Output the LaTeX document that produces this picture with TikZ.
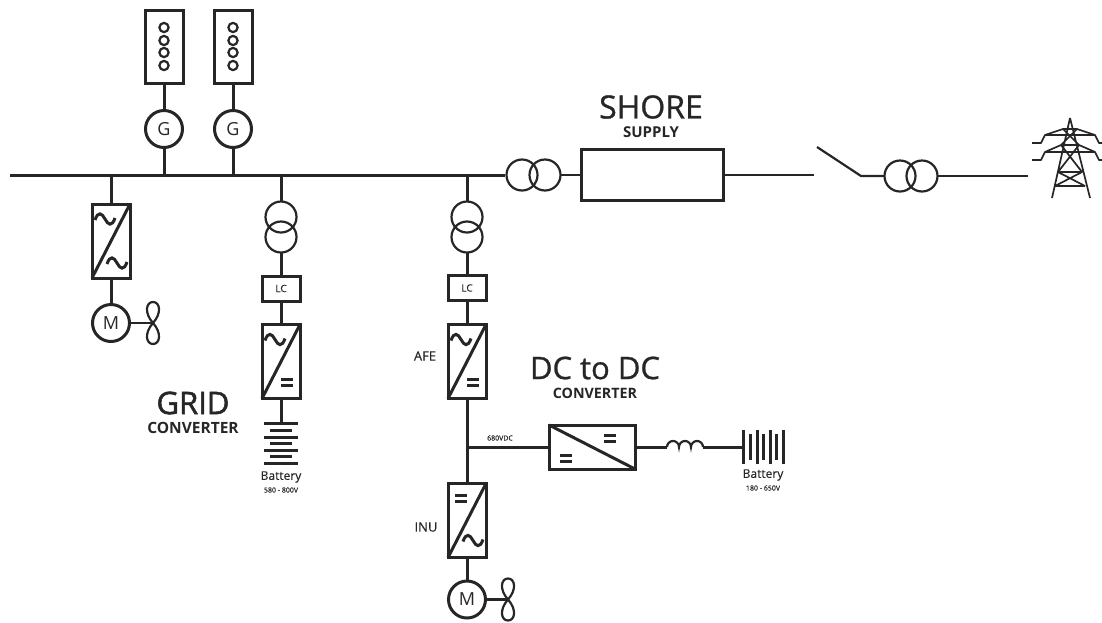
\documentclass[tikz,border=0pt]{standalone}
\usepackage{fontspec}
\setmainfont{Open Sans}
\newfontfamily\heavyfont[FakeBold=0.9]{Open Sans}
\newfontfamily\blackfont[FakeBold=1.6]{Open Sans}
\newfontfamily\midfont[FakeBold=0.3]{Open Sans}
\usepackage{tikz}
\usetikzlibrary{calc, positioning}
\tikzset{
    x=1pt, y=1pt,
    wire/.style = {line width=3pt, black!85},
    thinwire/.style = {line width=2.2pt, black!85},
    textnode/.style = {draw=none, fill=none, rectangle, inner sep=0em, node distance=0em, text=black!85},
    titlenode/.style = {textnode, font=\heavyfont\fontsize{31}{31}\selectfont},
    subtitlenode/.style = {textnode, font=\fontsize{15.5}{16}\selectfont\bfseries},
    tagnode/.style = {textnode, font=\midfont\fontsize{13}{14}\selectfont},
    tinynode/.style = {textnode, font=\midfont\fontsize{7}{8}\selectfont},
    machinenode/.style = {draw, circle, wire, outer sep=0pt, inner sep=0em, minimum size=37, node distance=0em, font=\fontsize{18}{18}\selectfont},
    coilnode/.style = {draw, circle, thinwire, outer sep=0pt, inner sep=0em, minimum size=31, node distance=0em},
    convnode/.style = {draw, rectangle, wire, outer sep=0pt, minimum width=38, minimum height=74, node distance=0em},
    lcnode/.style = {draw, rectangle, wire, outer sep=0pt, inner sep=0em, minimum width=38, minimum height=25, node distance=0em, font=\midfont\fontsize{10}{10}\selectfont},
    enginenode/.style = {draw, rectangle, wire, outer sep=0pt, minimum width=38, minimum height=73, node distance=0em},
    pics/acsym/.style = {code={\draw[wire] (-10,-1) .. controls (-7,8) and (-3,6) .. (0,0) .. controls (3,-6) and (7,-8) .. (10,1);}},
    pics/dcsym/.style = {code={\draw[wire] (-6,3) -- (6,3) (-6,-3) -- (6,-3);}},
    pics/fansym/.style = {code={\draw[thinwire] (0,0) .. controls (-9,10) and (-7,21) .. (0,21) .. controls (7,21) and (9,10) .. (0,0)
      .. controls (-9,-10) and (-7,-21) .. (0,-21) .. controls (7,-21) and (9,-10) .. (0,0);}}
}
\begin{document}
\begin{tikzpicture}
\useasboundingbox (0,0) rectangle (1102,-622);
% main bus
\coordinate (buswest) at (10,-175);
\coordinate (buseast) at (505,-175);
\draw[wire] (buswest) -- (buseast);
% generators
\node[machinenode, name=G1] at (164,-129) {G};
\node[machinenode, name=G2, right of = G1, xshift=69] {G};
\node[enginenode, name=E1, above of = G1, yshift=82.5] {};
\node[enginenode, name=E2, above of = G2, yshift=82.5] {};
\foreach \e in {E1, E2} {
  \foreach \y in {-19, -6, 6, 19} {
    \draw[thinwire] ($(\e.center)+(0,\y)$) circle (4.6);
  }
}
\draw[wire] (E1) -- (G1);
\draw[wire] (E2) -- (G2);
\draw[wire] (G1) -- (G1 |- buswest);
\draw[wire] (G2) -- (G2 |- buswest);
% propulsion drive
\node[convnode, name=VFD] at (111,-241) {};
\node[machinenode, name=M1, below of = VFD, yshift=-82] {M};
\draw[wire] (VFD |- buswest) -- (VFD);
\draw[wire] (VFD) -- (M1);
\draw[wire] (VFD.south west) -- (VFD.north east);
\pic at ($(VFD.center)+(-6,22)$) {acsym};
\pic[] at ($(VFD.center)+(6,-22)$) {acsym};
\coordinate (fanA) at ($(M1)+(42,0)$);
\draw[thinwire] (M1) -- (fanA);
\pic at (fanA) {fansym};
% grid converter branch
\node[coilnode, name=T1a] at (281,-217) {};
\node[coilnode, name=T1b, below of = T1a, yshift=-20] {};
\node[lcnode, name=LC1, below of = T1b, yshift=-51.5] {LC};
\node[convnode, name=GC, below of = LC1, yshift=-73] {};
\coordinate (batgrid) at (281,-423);
\draw[wire] (T1a |- buswest) -- (T1a.north);
\draw[wire] (T1b.south) -- (LC1);
\draw[wire] (LC1) -- (GC);
\draw[wire] (GC) -- (batgrid);
\draw[wire] (GC.south west) -- (GC.north east);
\pic at ($(GC.center)+(-6,22)$) {acsym};
\pic at ($(GC.center)+(6,-21)$) {dcsym};
\foreach \y/\w in {0/17, 7/11, 14/17, 20/11, 27/17, 33/11, 40/17} {
  \draw[wire] ($(batgrid)+(-\w,-\y)$) -- ($(batgrid)+(\w,-\y)$);
}
\node[titlenode, name=GRID, font=\blackfont\fontsize{31}{31}\selectfont] at (193,-403) {GRID};
\node[subtitlenode, name=GRIDsub, below of = GRID, yshift=-25] {CONVERTER};
\node[tagnode, name=BAT1, font=\midfont\fontsize{12}{12}\selectfont] at (281,-477) {Battery};
\node[tinynode, name=BAT1sub, below of = BAT1, yshift=-13] {580 - 800V};
% battery drive branch
\node[coilnode, name=T2a] at (467,-217) {};
\node[coilnode, name=T2b, below of = T2a, yshift=-20] {};
\node[lcnode, name=LC2, below of = T2b, yshift=-51] {LC};
\node[convnode, name=AFE, below of = LC2, yshift=-73.5] {};
\node[convnode, name=INU, below of = AFE, yshift=-159] {};
\node[machinenode, name=M2, below of = INU, yshift=-79] {M};
\draw[wire] (T2a |- buswest) -- (T2a.north);
\draw[wire] (T2b.south) -- (LC2);
\draw[wire] (LC2) -- (AFE);
\draw[wire] (AFE) -- (INU);
\draw[wire] (INU) -- (M2);
\draw[wire] (AFE.south west) -- (AFE.north east);
\draw[wire] (INU.south west) -- (INU.north east);
\pic at ($(AFE.center)+(-6,22)$) {acsym};
\pic at ($(AFE.center)+(6,-21)$) {dcsym};
\pic at ($(INU.center)+(-6,22)$) {dcsym};
\pic at ($(INU.center)+(6,-20)$) {acsym};
\coordinate (fanB) at ($(M2)+(41,0)$);
\draw[thinwire] (M2) -- (fanB);
\pic at (fanB) {fansym};
\node[tagnode, name=AFEtag] at (425,-356) {AFE};
\node[tagnode, name=INUtag] at (426,-527) {INU};
% dc to dc converter
\node[convnode, name=DCDC, minimum width=86, minimum height=44] at (592,-447) {};
\coordinate (dctap) at (AFE |- DCDC);
\draw[wire] (dctap) -- (DCDC);
\draw[wire] (DCDC.north west) -- (DCDC.south east);
\pic at ($(DCDC.center)+(18,9)$) {dcsym};
\pic at ($(DCDC.center)+(-26,-11)$) {dcsym};
\node[tinynode, name=DCtag] at (500,-438) {680VDC};
\node[titlenode, name=DCDCtitle] at (595,-368) {DC to DC};
\node[subtitlenode, name=DCDCsub, below of = DCDCtitle, yshift=-25, font=\fontsize{14.3}{15}\selectfont\bfseries] {CONVERTER};
\coordinate (Lin) at (667,-447);
\coordinate (Lout) at (703,-447);
\coordinate (batdc) at (743,-447);
\draw[wire] (DCDC) -- (Lin);
\draw[thinwire] (Lin) arc[start angle=180, end angle=0, radius=6] arc[start angle=180, end angle=0, radius=6] arc[start angle=180, end angle=0, radius=6];
\draw[wire] (Lout) -- (batdc);
\foreach \x/\h in {0/17, 7/13, 14/17, 20/13, 27/17, 33/13, 40/17} {
  \draw[wire] ($(batdc)+(\x,\h)$) -- ($(batdc)+(\x,-\h)$);
}
\node[tagnode, name=BAT2, font=\midfont\fontsize{12}{12}\selectfont] at (763,-475) {Battery};
\node[tinynode, name=BAT2sub, below of = BAT2, yshift=-13] {180 - 650V};
% shore supply
\node[coilnode, name=T3a] at (522,-175) {};
\node[coilnode, name=T3b, right of = T3a, xshift=23] {};
\node[convnode, name=SHORE, minimum width=142, minimum height=51] at (652,-175) {};
\draw[thinwire] (T3b.east) -- (SHORE.west);
\node[titlenode, name=SHOREtitle, font=\heavyfont\fontsize{32}{32}\selectfont] at (651,-107) {SHORE};
\node[subtitlenode, name=SHOREsub, below of = SHOREtitle, yshift=-25, font=\fontsize{15}{16}\selectfont\bfseries] {SUPPLY};
\coordinate (swA) at (814,-175);
\coordinate (swB) at (817,-147);
\coordinate (swC) at (861,-176);
\node[coilnode, name=T4a] at (900,-176) {};
\node[coilnode, name=T4b, right of = T4a, xshift=22] {};
\coordinate (gridend) at (1028,-176);
\draw[thinwire] (SHORE.east) -- (swA);
\draw[thinwire] (swB) -- (swC) -- (T4a.west);
\draw[thinwire] (T4b.east) -- (gridend);
% pylon
\coordinate (top) at (1070,-118);
\draw[line width=1.7pt, black!85, line join=round]
  (top) -- (1052,-198) (top) -- (1090,-198)
  (1045,-135) -- (1063,-129) -- (1077,-129) -- (1095,-135) -- cycle
  (1045,-152) -- (1061,-145) -- (1079,-145) -- (1095,-152) -- cycle
  (1063,-129) -- (1079,-145) (1077,-129) -- (1061,-145)
  (1061,-145) -- (1082,-172) (1079,-145) -- (1058,-172)
  (1058,-172) -- (1082,-172) (1058,-172) -- (1085,-186) (1082,-172) -- (1055,-186) (1055,-186) -- (1085,-186)
  (1045,-135) -- (1041,-143) -- (1032,-143) (1045,-152) -- (1041,-160) -- (1032,-160)
  (1095,-135) -- (1099,-143) -- (1102,-143) (1095,-152) -- (1099,-160) -- (1102,-160);
\end{tikzpicture}
\end{document}
